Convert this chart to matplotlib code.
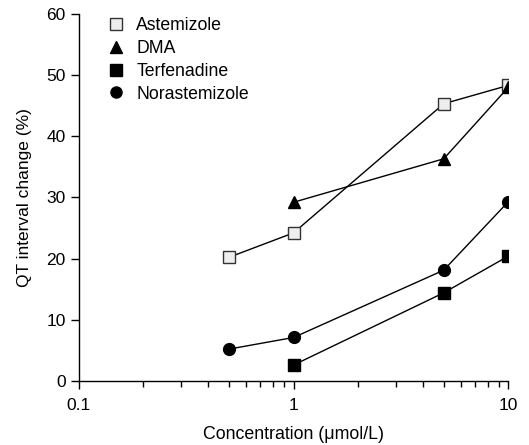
import matplotlib
matplotlib.use("Agg")
import matplotlib.pyplot as plt
from matplotlib.lines import Line2D
from matplotlib.ticker import FixedLocator, FixedFormatter, LogLocator, NullFormatter

plt.rcParams['font.family'] = ['Liberation Sans', 'DejaVu Sans']
plt.rcParams['font.size'] = 12.5

# data
conc_aste = [0.5, 1, 5, 10]
aste = [20.2, 24.2, 45.3, 48.3]
conc_dma = [1, 5, 10]
dma = [29.2, 36.3, 48.0]
conc_terf = [1, 5, 10]
terf = [2.6, 14.4, 20.4]
conc_nora = [0.5, 1, 5, 10]
nora = [5.2, 7.1, 18.1, 29.3]

fig = plt.figure(figsize=(5.29, 4.45), dpi=100)
ax = fig.add_axes([0.149, 0.144, 0.812, 0.825])

lw = 1.0
ms = 8
ax.plot(conc_aste, aste, '-s', color='black', lw=lw, ms=ms,
        mfc='#eeeeee', mec='#333333', mew=1.0, label='Astemizole', zorder=3)
ax.plot(conc_dma, dma, '-^', color='black', lw=lw, ms=ms + 0.5,
        mfc='black', mec='black', label='DMA', zorder=4)
ax.plot(conc_terf, terf, '-s', color='black', lw=lw, ms=ms,
        mfc='black', mec='black', label='Terfenadine', zorder=3)
ax.plot(conc_nora, nora, '-o', color='black', lw=lw, ms=ms + 0.5,
        mfc='black', mec='black', label='Norastemizole', zorder=3)

ax.set_xscale('log')
ax.set_xlim(0.1, 10)
ax.set_ylim(0, 60)
ax.xaxis.set_major_locator(FixedLocator([0.1, 1, 10]))
ax.xaxis.set_major_formatter(FixedFormatter(['0.1', '1', '10']))
ax.xaxis.set_minor_locator(LogLocator(base=10, subs=range(2, 10)))
ax.xaxis.set_minor_formatter(NullFormatter())
ax.set_yticks([0, 10, 20, 30, 40, 50, 60])

for s in ['top', 'right']:
    ax.spines[s].set_visible(False)
for s in ['left', 'bottom']:
    ax.spines[s].set_linewidth(1.0)
ax.tick_params(which='major', direction='out', length=6, width=1.0, labelsize=12.5)
ax.tick_params(axis='x', which='major', pad=6.5)
ax.tick_params(which='minor', direction='out', length=4, width=1.0)

ax.set_xlabel('Concentration (\u03bcmol/L)', fontsize=12.8, labelpad=9.5)
ax.set_ylabel('QT interval change (%)', fontsize=12.5, labelpad=10)

handles, labels = ax.get_legend_handles_labels()
leg_handles = [Line2D([], [], ls='none', marker=h.get_marker(), ms=8,
                      mfc=h.get_markerfacecolor(), mec=h.get_markeredgecolor(),
                      mew=h.get_markeredgewidth()) for h in handles]
ax.legend(leg_handles, labels, loc='upper left', frameon=False,
          bbox_to_anchor=(0.065, 0.991), borderaxespad=0, borderpad=0,
          handlelength=1.0, handletextpad=0.68, labelspacing=0.33,
          fontsize=12.7)

fig.savefig('out.png', dpi=100)
